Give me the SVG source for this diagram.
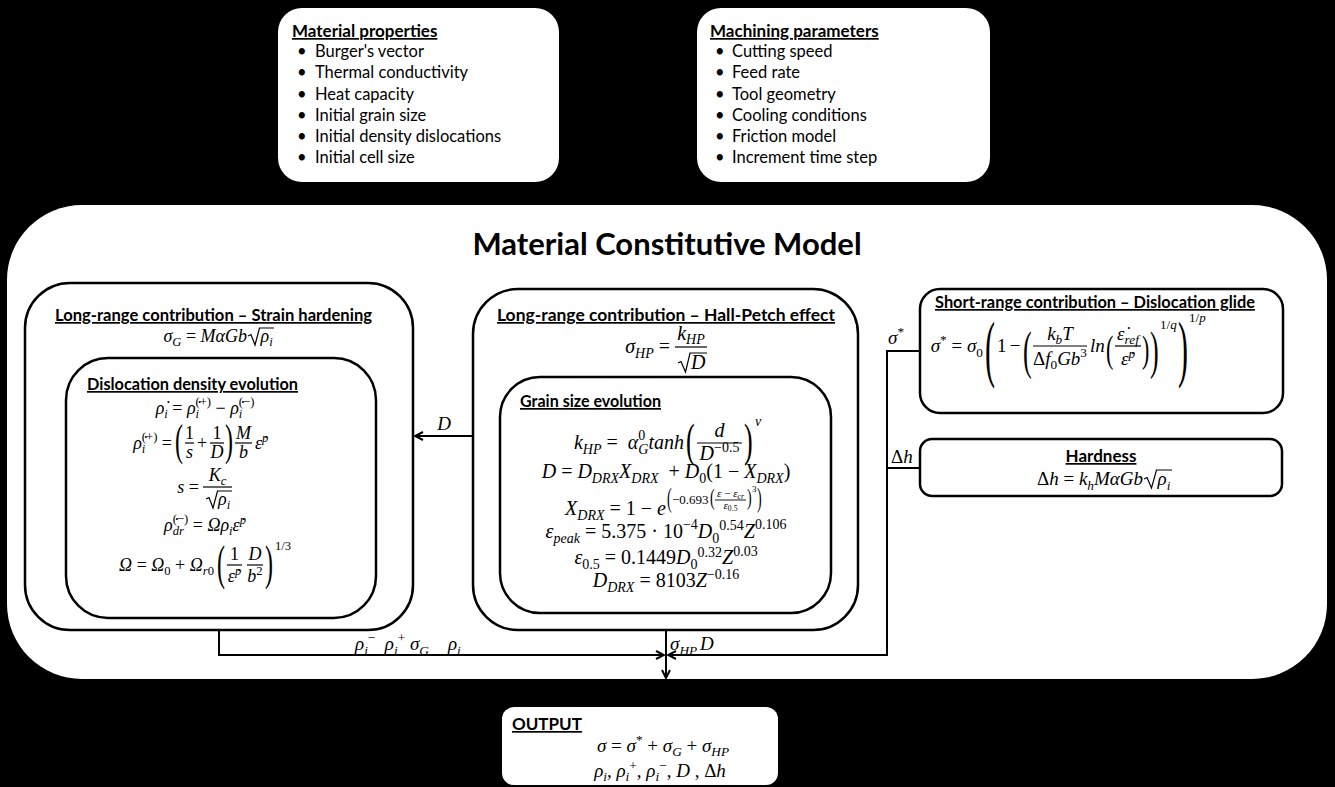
<svg xmlns="http://www.w3.org/2000/svg" width="1335" height="787" viewBox="0 0 1335 787">
<defs>
<style>
.wb{fill:#fff;stroke:none}
.bx{fill:#fff;stroke:#000;stroke-width:2.5}
.h{font-family:Lato,"Liberation Sans",sans-serif;font-weight:bold;font-size:17px;text-decoration:underline;fill:#000}
.t{font-family:Lato,"Liberation Sans",sans-serif;font-size:16.5px;fill:#000}
.ttl{font-family:Lato,"Liberation Sans",sans-serif;font-weight:bold;font-size:31px;fill:#000}
.m{font-family:"Liberation Serif","DejaVu Serif",serif;font-style:italic;font-size:19px;fill:#000}
.ml{font-size:18px}
.m2{font-size:20px}
.e{font-family:"Liberation Serif","DejaVu Serif",serif;font-style:italic;font-size:13px;fill:#000}
.f{font-family:"Liberation Serif","DejaVu Serif",serif;font-style:italic;font-size:11px;fill:#000}
.p{font-family:"Liberation Serif","DejaVu Serif",serif;font-style:normal;fill:#000}
.sx{font-size:13px}
.u{font-style:normal}
.s{font-size:0.7em}
.c{stroke:#000;stroke-width:2;fill:none}
.bar{stroke:#000;stroke-width:1.2}
.rad{stroke:#000;stroke-width:1.2;fill:none}
</style>
<marker id="ah" viewBox="0 0 10 10" refX="9" refY="5" markerWidth="10" markerHeight="10" markerUnits="userSpaceOnUse" orient="auto">
<path d="M1,1 L9,5 L1,9" fill="none" stroke="#000" stroke-width="2"/>
</marker>
</defs>
<rect x="0" y="0" width="1335" height="787" fill="#000"/>

<g id="material-properties">
<rect class="wb" x="278" y="8" width="281" height="174" rx="24"/>
<text class="h" x="292" y="37">Material properties</text>
<text class="t" x="297" y="57">•</text><text class="t" x="315" y="57">Burger's vector</text>
<text class="t" x="297" y="78">•</text><text class="t" x="315" y="78">Thermal conductivity</text>
<text class="t" x="297" y="100">•</text><text class="t" x="315" y="100">Heat capacity</text>
<text class="t" x="297" y="121">•</text><text class="t" x="315" y="121">Initial grain size</text>
<text class="t" x="297" y="142">•</text><text class="t" x="315" y="142">Initial density dislocations</text>
<text class="t" x="297" y="163">•</text><text class="t" x="315" y="163">Initial cell size</text>
</g>

<g id="machining-parameters">
<rect class="wb" x="697" y="8" width="293" height="174" rx="24"/>
<text class="h" x="710" y="37">Machining parameters</text>
<text class="t" x="715" y="57">•</text><text class="t" x="732" y="57">Cutting speed</text>
<text class="t" x="715" y="78">•</text><text class="t" x="732" y="78">Feed rate</text>
<text class="t" x="715" y="100">•</text><text class="t" x="732" y="100">Tool geometry</text>
<text class="t" x="715" y="121">•</text><text class="t" x="732" y="121">Cooling conditions</text>
<text class="t" x="715" y="142">•</text><text class="t" x="732" y="142">Friction model</text>
<text class="t" x="715" y="163">•</text><text class="t" x="732" y="163">Increment time step</text>
</g>

<g id="material-constitutive-model">
<rect class="wb" x="7" y="205" width="1320" height="474" rx="75"/>
<text class="ttl" x="667" y="255" text-anchor="middle">Material Constitutive Model</text>
</g>

<g id="strain-hardening">
<rect class="bx" x="25" y="283" width="388" height="347" rx="45"/>
<text class="h" x="55" y="321" textLength="317" lengthAdjust="spacingAndGlyphs">Long-range contribution – Strain hardening</text>
<text class="m ml" x="247" y="342" text-anchor="end">σ<tspan class="s" dy="4">G</tspan><tspan class="u" dy="-4"> = </tspan>MαGb</text>
<path class="rad" d="M248,336 L251,334.5 L255,345 L259.5,328 L274,328"/>
<text class="m ml" x="260.5" y="342">ρ<tspan class="s" dy="4">i</tspan></text>
</g>

<g id="dislocation-density">
<rect class="bx" x="66" y="358" width="310" height="260" rx="42"/>
<text class="h" x="87" y="390" textLength="211" lengthAdjust="spacingAndGlyphs">Dislocation density evolution</text>
<text class="m ml" x="205" y="414" text-anchor="middle">ρ&#x307;<tspan class="s" dy="4">i</tspan><tspan class="u" dy="-4"> = </tspan>ρ&#x307;<tspan class="s" dy="4">i</tspan><tspan class="s u" dx="-3.5" dy="-12">(+)</tspan><tspan class="u" dy="8"> − </tspan>ρ&#x307;<tspan class="s" dy="4">i</tspan><tspan class="s u" dx="-3.5" dy="-12">(−)</tspan></text>
<text class="m ml" x="172" y="449" text-anchor="end">ρ&#x307;<tspan class="s" dy="4">i</tspan><tspan class="s u" dx="-3.5" dy="-12">(+)</tspan><tspan class="u" dy="8"> =</tspan></text>
<text class="p" style="font-size:24px" transform="translate(175,455.3) scale(1,1.82)">(</text>
<line class="bar" x1="185" y1="443" x2="194" y2="443"/>
<text class="m ml u" x="189.5" y="439" text-anchor="middle">1</text>
<text class="m ml" x="189.5" y="458" text-anchor="middle">s</text>
<text class="m ml u" x="202" y="449" text-anchor="middle">+</text>
<line class="bar" x1="210" y1="443" x2="224" y2="443"/>
<text class="m ml u" x="217" y="439" text-anchor="middle">1</text>
<text class="m ml" x="217" y="458" text-anchor="middle">D</text>
<text class="p" style="font-size:24px" transform="translate(225,455.3) scale(1,1.82)">)</text>
<line class="bar" x1="235" y1="443" x2="252" y2="443"/>
<text class="m ml" x="243.5" y="439" text-anchor="middle">M</text>
<text class="m ml" x="243.5" y="458" text-anchor="middle">b</text>
<text class="m ml" x="255" y="449">ε&#x307;<tspan class="s" dy="-7">p</tspan></text>
<text class="m ml" x="199" y="493" text-anchor="end">s<tspan class="u"> =</tspan></text>
<line class="bar" x1="203" y1="487" x2="232" y2="487"/>
<text class="m ml" x="217.5" y="481" text-anchor="middle">K<tspan class="s" dy="4">c</tspan></text>
<path class="rad" d="M206,499 L209,497.5 L213,508 L217.5,491 L232,491"/>
<text class="m ml" x="218" y="505">ρ<tspan class="s" dy="4">i</tspan></text>
<text class="m ml" x="205" y="531" text-anchor="middle">ρ&#x307;<tspan class="s" dy="4">dr</tspan><tspan class="s u" dx="-11.2" dy="-12">(−)</tspan><tspan class="u" dy="8"> = </tspan>Ωρ<tspan class="s" dy="4">i</tspan><tspan dy="-4">ε&#x307;</tspan><tspan class="s" dy="-7">p</tspan></text>
<text class="m ml" x="214" y="571" text-anchor="end">Ω<tspan class="u"> = </tspan>Ω<tspan class="s u" dy="4">0</tspan><tspan class="u" dy="-4"> + </tspan>Ω<tspan class="s" dy="4">r</tspan><tspan class="s u">0</tspan></text>
<text class="p" style="font-size:24px" transform="translate(217,578.5) scale(1,2.01)">(</text>
<line class="bar" x1="227" y1="565" x2="242" y2="565"/>
<text class="m ml u" x="234.5" y="560" text-anchor="middle">1</text>
<text class="m ml" x="234.5" y="582" text-anchor="middle">ε&#x307;<tspan class="s" dy="-7">p</tspan></text>
<line class="bar" x1="247" y1="565" x2="263" y2="565"/>
<text class="m ml" x="255" y="560" text-anchor="middle">D</text>
<text class="m ml" x="255" y="582" text-anchor="middle">b<tspan class="s u" dy="-7">2</tspan></text>
<text class="p" style="font-size:24px" transform="translate(265,578.5) scale(1,2.01)">)</text>
<text class="m u" style="font-size:12.6px" x="275" y="550">1/3</text>
</g>

<g id="hall-petch">
<rect class="bx" x="473" y="289" width="385" height="341" rx="45"/>
<text class="h" x="497" y="321" textLength="338" lengthAdjust="spacingAndGlyphs">Long-range contribution – Hall-Petch effect</text>
<text class="m m2" x="670" y="353" text-anchor="end">σ<tspan class="s" dy="5">HP</tspan><tspan class="u" dy="-5"> =</tspan></text>
<line class="bar" x1="675" y1="347" x2="707" y2="347"/>
<text class="m m2" x="691" y="340" text-anchor="middle">k<tspan class="s" dy="4">HP</tspan></text>
<path class="rad" d="M678,363 L681,361.5 L685.5,372 L690,353 L707,353"/>
<text class="m m2" x="691" y="369">D</text>
</g>

<g id="grain-size">
<rect class="bx" x="500" y="377" width="331" height="236" rx="40"/>
<text class="h" x="520" y="407" textLength="141" lengthAdjust="spacingAndGlyphs">Grain size evolution</text>
<text class="m m2" x="684" y="449" text-anchor="end">k<tspan class="s" dy="5">HP</tspan><tspan class="u" dy="-5"> =&#160; </tspan>α<tspan class="s u" dy="-9">0</tspan><tspan class="s" dx="-7" dy="14">G</tspan><tspan dy="-5">tanh</tspan></text>
<text class="p" style="font-size:26px" transform="translate(686,455.9) scale(1,1.77)">(</text>
<line class="bar" x1="697" y1="443" x2="742" y2="443"/>
<text class="m m2" x="719.5" y="437" text-anchor="middle">d</text>
<text class="m m2" x="719.5" y="460" text-anchor="middle">D<tspan class="s u" dy="-8">−0.5</tspan></text>
<text class="p" style="font-size:26px" transform="translate(744,455.9) scale(1,1.77)">)</text>
<text class="e" style="font-size:14px" x="755" y="426">ν</text>
<text class="m m2" x="666" y="478" text-anchor="middle">D<tspan class="u"> = </tspan>D<tspan class="s" dy="5">DRX</tspan><tspan dy="-5">X</tspan><tspan class="s" dy="5">DRX</tspan><tspan class="u" dy="-5">&#160; + </tspan>D<tspan class="s u" dy="5">0</tspan><tspan class="u" dy="-5">(1 − </tspan>X<tspan class="s" dy="5">DRX</tspan><tspan class="u" dy="-5">)</tspan></text>
<text class="m m2" x="666" y="515" text-anchor="end">X<tspan class="s" dy="5">DRX</tspan><tspan class="u" dy="-5"> = 1 − </tspan>e</text>
<text class="p" style="font-size:14px" transform="translate(667,507.2) scale(1,2.0)">(</text>
<text class="e u" x="672" y="504">−0.693</text>
<text class="p" style="font-size:14px" transform="translate(710,505.4) scale(1,1.6)">(</text>
<line class="bar" x1="715" y1="500" x2="746" y2="500" style="stroke-width:0.9"/>
<text class="f" x="730.5" y="497" text-anchor="middle">ε<tspan class="u"> − </tspan>ε<tspan class="s" dy="2">cr</tspan></text>
<text class="f" x="730.5" y="509" text-anchor="middle">ε<tspan class="s u" dy="2">0.5</tspan></text>
<text class="p" style="font-size:14px" transform="translate(747,505.4) scale(1,1.6)">)</text>
<text class="f u" x="752" y="492" style="font-size:9px">3</text>
<text class="p" style="font-size:14px" transform="translate(757,507.2) scale(1,2.0)">)</text>
<text class="m m2" x="666" y="538" text-anchor="middle">ε<tspan class="s" dy="5">peak</tspan><tspan class="u" dy="-5"> = 5.375 · 10</tspan><tspan class="s u" dy="-9">−4</tspan><tspan dy="9">D</tspan><tspan class="s u" dy="5">0</tspan><tspan class="s u" dy="-13">0.54</tspan><tspan dy="8">Z</tspan><tspan class="s u" dy="-9">0.106</tspan></text>
<text class="m m2" x="666" y="564" text-anchor="middle">ε<tspan class="s u" dy="5">0.5</tspan><tspan class="u" dy="-5"> = 0.1449</tspan>D<tspan class="s u" dy="5">0</tspan><tspan class="s u" dy="-12">0.32</tspan><tspan dy="7">Z</tspan><tspan class="s u" dy="-8">0.03</tspan></text>
<text class="m m2" x="666" y="587" text-anchor="middle">D<tspan class="s" dy="5">DRX</tspan><tspan class="u" dy="-5"> = 8103</tspan>Z<tspan class="s u" dy="-8">−0.16</tspan></text>
</g>

<g id="dislocation-glide">
<rect class="bx" x="920" y="289" width="363" height="124" rx="20"/>
<text class="h" x="935" y="308" textLength="320" lengthAdjust="spacingAndGlyphs">Short-range contribution – Dislocation glide</text>
<text class="m" x="983" y="352" text-anchor="end">σ<tspan class="s u" dy="-8">*</tspan><tspan class="u" dy="8"> = </tspan>σ<tspan class="s u" dy="5">0</tspan></text>
<text class="p" style="font-size:30px" transform="translate(985,373) scale(1,2.45)">(</text>
<text class="m u" x="997" y="352">1</text>
<text class="m u" x="1015" y="352" text-anchor="middle">−</text>
<text class="p" style="font-size:26px" transform="translate(1023,367.6) scale(1,2.03)">(</text>
<line class="bar" x1="1033" y1="346" x2="1087" y2="346"/>
<text class="m" x="1060" y="340" text-anchor="middle">k<tspan class="s" dy="4">b</tspan><tspan dy="-4">T</tspan></text>
<text class="m" x="1060" y="365" text-anchor="middle"><tspan class="u">Δ</tspan>f<tspan class="s u" dy="4">0</tspan><tspan dy="-4">Gb</tspan><tspan class="s u" dy="-8">3</tspan></text>
<text class="m" x="1090" y="352">ln</text>
<text class="p" style="font-size:22px" transform="translate(1106,362.1) scale(1,1.77)">(</text>
<line class="bar" x1="1115" y1="346" x2="1141" y2="346"/>
<text class="m" x="1128" y="340" text-anchor="middle">ε&#x307;<tspan class="s" dy="4">ref</tspan></text>
<text class="m" x="1128" y="365" text-anchor="middle">ε&#x307;<tspan class="s" dy="-7">p</tspan></text>
<text class="p" style="font-size:22px" transform="translate(1142,362.1) scale(1,1.77)">)</text>
<text class="p" style="font-size:26px" transform="translate(1150,367.6) scale(1,2.03)">)</text>
<text class="m sx" x="1160" y="329"><tspan class="u">1/</tspan>q</text>
<text class="p" style="font-size:30px" transform="translate(1178,373) scale(1,2.45)">)</text>
<text class="m sx" x="1189" y="322"><tspan class="u">1/</tspan>p</text>
</g>

<g id="hardness">
<rect class="bx" x="920" y="439" width="362" height="57" rx="12"/>
<text class="h" x="1101" y="462" text-anchor="middle">Hardness</text>
<text class="m" x="1143" y="485" text-anchor="end"><tspan class="u">Δ</tspan>h<tspan class="u"> = </tspan>k<tspan class="s" dy="5">h</tspan><tspan dy="-5">MαGb</tspan></text>
<path class="rad" d="M1144,479 L1147,477.5 L1151.5,488 L1156.5,470 L1172,470"/>
<text class="m" x="1157.5" y="485">ρ<tspan class="s" dy="5">i</tspan></text>
</g>

<g id="output">
<rect class="wb" x="502" y="707" width="276" height="78" rx="12"/>
<text class="h" x="512" y="730">OUTPUT</text>
<text class="m" x="663" y="752" text-anchor="middle">σ<tspan class="u"> = </tspan>σ<tspan class="s u" dy="-8">*</tspan><tspan class="u" dy="8"> + </tspan>σ<tspan class="s" dy="4">G</tspan><tspan class="u" dy="-4"> + </tspan>σ<tspan class="s" dy="4">HP</tspan></text>
<text class="m" x="660" y="777" text-anchor="middle">ρ<tspan class="s" dy="4">i</tspan><tspan class="u" dy="-4">, </tspan>ρ<tspan class="s" dy="4">i</tspan><tspan class="s u" dy="-11">+</tspan><tspan class="u" dy="7">, </tspan>ρ<tspan class="s" dy="4">i</tspan><tspan class="s u" dy="-11">−</tspan><tspan class="u" dy="7">, </tspan>D<tspan class="u"> , Δ</tspan>h</text>
</g>

<g id="connectors">
<path class="c" d="M473,436 L415,436" marker-end="url(#ah)"/>
<path class="c" d="M219,630 L219,655 L664,655" marker-end="url(#ah)"/>
<path class="c" d="M666,630 L666,678" marker-end="url(#ah)"/>
<path class="c" d="M920,351 L887,351 L887,655 L668,655" marker-end="url(#ah)"/>
<path class="c" d="M920,468 L887,468"/>
<text class="m" x="444" y="430" text-anchor="middle">D</text>
<text class="m" x="888" y="344">σ<tspan class="s u" dy="-8">*</tspan></text>
<text class="m" x="891" y="463"><tspan class="u">Δ</tspan>h</text>
<text class="m" x="355" y="650">ρ<tspan class="s" dy="5">i</tspan><tspan class="s u" dy="-13">−</tspan><tspan dy="8">&#160;&#160;ρ</tspan><tspan class="s" dy="5">i</tspan><tspan class="s u" dy="-13">+</tspan><tspan dy="8">&#160;σ</tspan><tspan class="s" dy="5">G</tspan><tspan dy="-5">&#160;&#160;&#160;&#160;ρ</tspan><tspan class="s" dy="5">i</tspan></text>
<text class="m" x="670" y="650">σ<tspan class="s" dy="5">HP</tspan><tspan dx="3" dy="-5">D</tspan></text>
</g>
</svg>
